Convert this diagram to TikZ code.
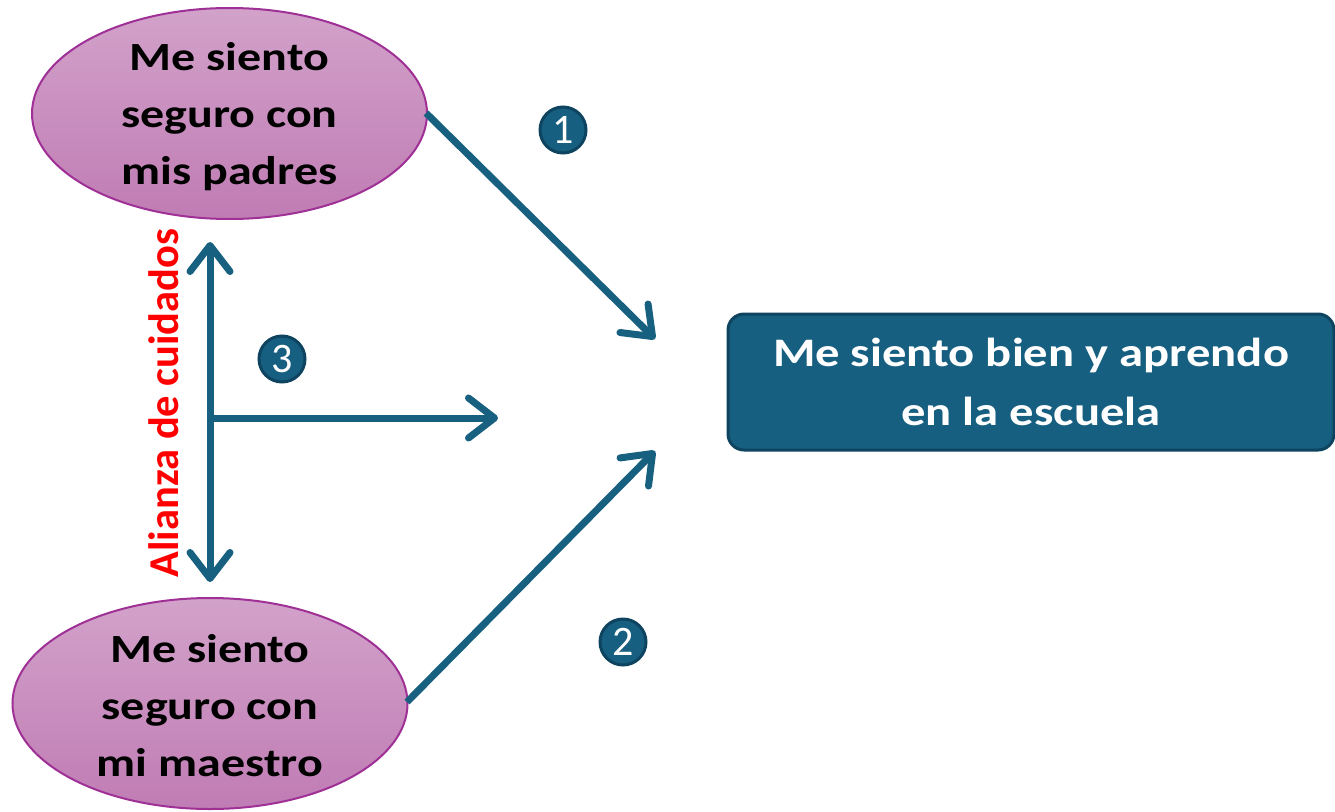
\documentclass[tikz,border=0pt]{standalone}
\usepackage{fontspec}
\setmainfont{Carlito}
\newfontfamily\widefont[FakeStretch=1.2]{Carlito}
\usetikzlibrary{arrows.meta,shapes.geometric}
\definecolor{arrowc}{RGB}{24,96,128}
\definecolor{darkc}{RGB}{14,68,95}
\definecolor{boxfill}{RGB}{23,95,128}
\definecolor{elltop}{RGB}{210,162,202}
\definecolor{ellbot}{RGB}{192,124,180}
\definecolor{ellborder}{RGB}{158,48,150}
\tikzset{
  ellnode/.style={ellipse, draw=ellborder, line width=2pt, top color=elltop, bottom color=ellbot,
    minimum width=395pt, minimum height=211pt, inner sep=0pt, align=center,
    font=\widefont\bfseries\fontsize{40pt}{57pt}\selectfont},
  goalbox/.style={rectangle, rounded corners=16pt, draw=darkc, line width=3pt, fill=boxfill,
    minimum width=606pt, minimum height=136pt, inner sep=0pt, align=center, text=white,
    font=\widefont\bfseries\fontsize{40.5pt}{59pt}\selectfont},
  numc/.style={circle, draw=darkc, line width=3pt, fill=boxfill, minimum size=46pt, inner sep=0pt,
    text=white, font=\fontsize{42pt}{42pt}\selectfont},
  conn/.style={draw=arrowc, line width=7pt, -{Straight Barb[length=26pt,width=40pt,round]}},
  dconn/.style={draw=arrowc, line width=7pt, {Straight Barb[length=26pt,width=40pt,round]}-{Straight Barb[length=26pt,width=40pt,round]}},
}
\begin{document}
\begin{tikzpicture}[x=1pt,y=-1pt]
\useasboundingbox (0,0) rectangle (1335,811);
\node[ellnode] (padres) at (229.5,113.5) {};
\node[align=center, font=\widefont\bfseries\fontsize{40pt}{57pt}\selectfont] (padrestxt) at (229.5,116.5) {Me siento\\seguro con\\mis padres};
\node[ellnode] (maestro) at (210,703.5) {};
\node[align=center, font=\widefont\bfseries\fontsize{40pt}{57pt}\selectfont] (maestrotxt) at (210,705.5) {Me siento\\seguro con\\mi maestro};
\node[goalbox] (meta) at (1031,382) {Me siento bien y aprendo\\en la escuela};
\node[numc] (n1) at (563,130) {1};
\node[numc] (n2) at (623,642) {2};
\node[numc] (n3) at (282,359) {3};
\node[text=red, rotate=90, font=\bfseries\fontsize{42.5pt}{42pt}\selectfont] (alianza) at (164,403) {Alianza de cuidados};
\coordinate (a1s) at (426,113);
\coordinate (a1e) at (655,339);
\coordinate (a2s) at (407,702);
\coordinate (a2e) at (655,451);
\coordinate (vtop) at (210,242);
\coordinate (vbot) at (210,582);
\coordinate (hjoin) at (210,418);
\coordinate (hend) at (498,418);
\draw[conn] (a1s) -- (a1e);
\draw[conn] (a2s) -- (a2e);
\draw[dconn] (vtop) -- (vbot);
\draw[conn] (hjoin) -- (hend);
\end{tikzpicture}
\end{document}
